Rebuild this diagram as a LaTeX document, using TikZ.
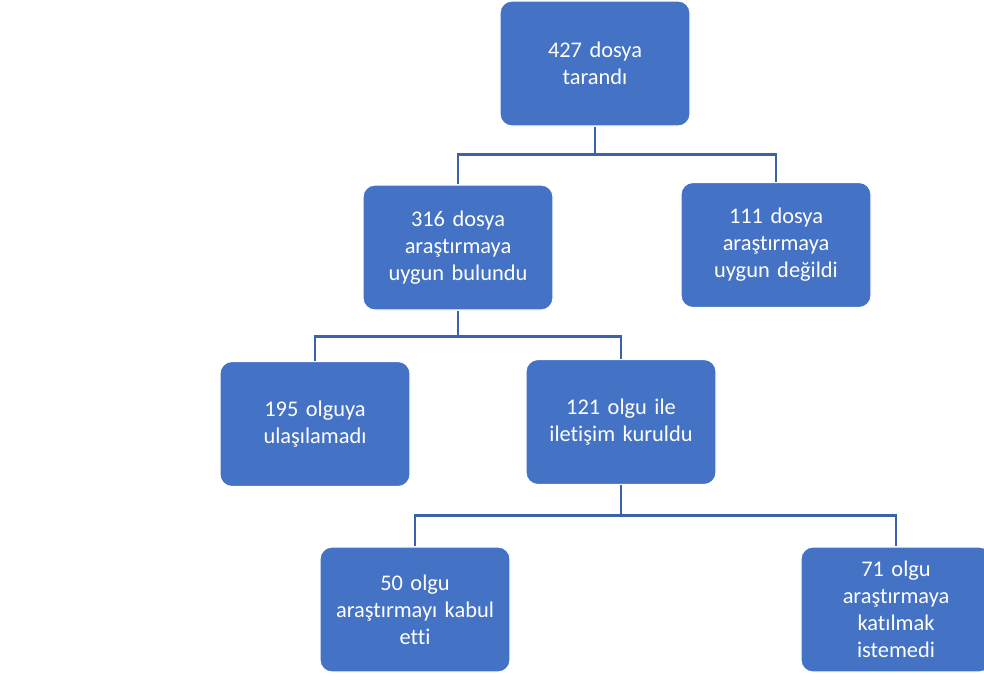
\documentclass[tikz,border=0pt]{standalone}
\usepackage{fontspec}
\setmainfont[Ligatures={NoCommon}]{Carlito}
\definecolor{kutumavi}{HTML}{4472C4}
\definecolor{cizgimavi}{HTML}{3B63AC}
\tikzset{
  kutu/.style={rectangle, rounded corners=9pt, fill=kutumavi, draw=white, line width=0.8pt,
    minimum width=142.5pt, minimum height=93.75pt, text width=130pt, align=center,
    text=white, font=\fontsize{16.8}{20.2}\selectfont},
  bag/.style={draw=cizgimavi, line width=2.2pt}
}
\begin{document}
\begin{tikzpicture}[x=0.75pt,y=-0.75pt]
  \useasboundingbox (0,0) rectangle (984,679);
  % kutular
  \node[kutu] (tarandi) at (595,63.5) {427 dosya\\tarandı};
  \node[kutu] (uygun) at (458,247.5) {316 dosya\\araştırmaya\\uygun bulundu};
  \node[kutu] (degil) at (776,245) {111 dosya\\araştırmaya\\uygun değildi};
  \node[kutu] (ulasilamadi) at (315,424) {195 olguya\\ulaşılamadı};
  \node[kutu] (iletisim) at (621,422) {121 olgu ile\\iletişim kuruldu};
  \node[kutu] (kabul) at (415,609.5) {50 olgu\\araştırmayı kabul\\etti};
  \node[kutu] (istemedi) at (896,609.5) {71 olgu\\araştırmaya\\katılmak\\istemedi};
  % baglantilar
  \draw[bag] (tarandi.south) -- ++(0,28) coordinate (k1);
  \draw[bag] (k1) -| (uygun.north);
  \draw[bag] (k1) -| (degil.north);
  \draw[bag] (uygun.south) -- ++(0,26) coordinate (k2);
  \draw[bag] (k2) -| (ulasilamadi.north);
  \draw[bag] (k2) -| (iletisim.north);
  \draw[bag] (iletisim.south) -- ++(0,30) coordinate (k3);
  \draw[bag] (k3) -| (kabul.north);
  \draw[bag] (k3) -| (istemedi.north);
\end{tikzpicture}
\end{document}
